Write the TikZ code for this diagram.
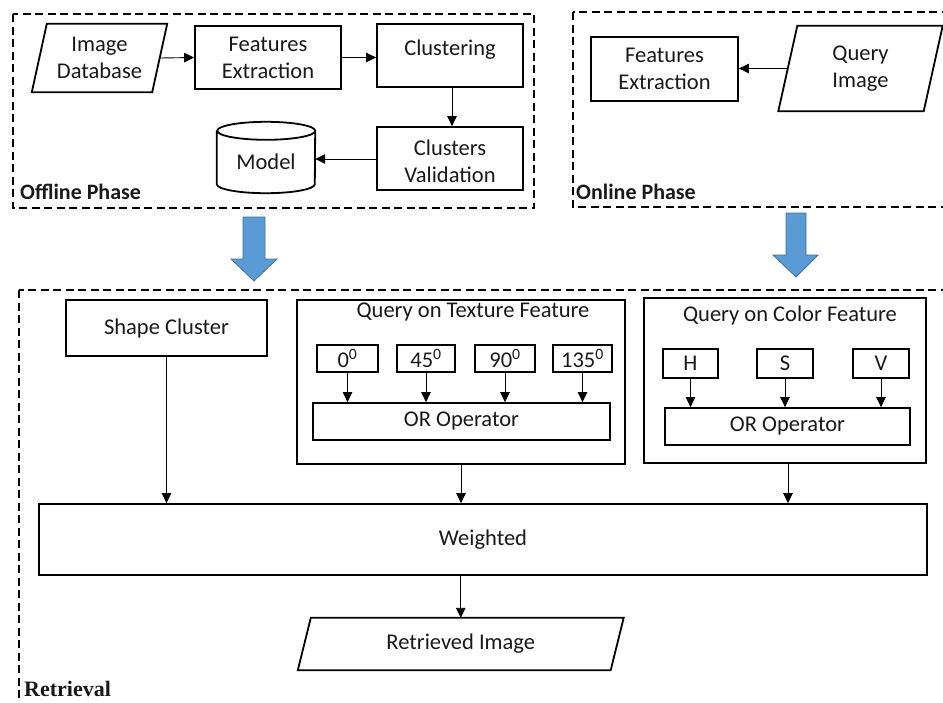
\documentclass[tikz,border=0pt]{standalone}
\usepackage{fontspec}
\setmainfont{Carlito}
\newfontfamily\timesf{Liberation Serif}
\usetikzlibrary{arrows.meta,calc}
\definecolor{arrowblue}{HTML}{5B9BD5}
\definecolor{arrowedge}{HTML}{41719C}
\begin{document}
\begin{tikzpicture}[x=1pt,y=1pt,
  every node/.style={font=\fontsize{22.5}{27}\selectfont, inner sep=0pt, align=center, text=black!90},
  bx/.style={draw=black, line width=1.8pt},
  ghost/.style={draw=none},
  phase/.style={draw=black, line width=2pt, dash pattern=on 8pt off 4.5pt},
  conn/.style={draw=black, line width=0.9pt, -{Triangle[length=10pt,width=9.5pt]}},
  plabel/.style={anchor=west, font=\fontsize{22}{27}\selectfont\bfseries},
  bigarrow/.style={fill=arrowblue, draw=arrowedge, line width=0.8pt}]
\useasboundingbox (0,0) rectangle (943,-702);
\fill[white] (0,0) rectangle (943,-702);

% ---------- phase frames ----------
\begin{scope}
\clip (0,0) rectangle (943,-702);
\draw[phase] (13,-14) rectangle (534,-208);
\draw[phase] (573,-12) rectangle (960,-207);
\draw[phase] (19,-290) rectangle (960,-720);
\end{scope}

% ---------- offline phase ----------
\node[ghost, minimum width=120pt, minimum height=68pt] (imgdb) at (99.5,-58) {Image\\Database};
\draw[bx] ([xshift=7.5pt]imgdb.north west) -- ([xshift=7.5pt]imgdb.north east)
  -- ([xshift=-7.5pt]imgdb.south east) -- ([xshift=-7.5pt]imgdb.south west) -- cycle;
\node[bx, minimum width=146pt, minimum height=63pt] (fe1) at (268,-57.5) {Features\\Extraction};
\node[bx, minimum width=146pt, minimum height=63pt] (clus) at (450,-55.5) {};
\node (clustxt) at ([yshift=6pt]clus.center) {Clustering};
\node[bx, minimum width=146pt, minimum height=63pt] (cv) at (450,-158.5) {};
\node (cvtxt) at ([yshift=-3pt]cv.center) {Clusters\\Validation};
\node[ghost, minimum width=98pt, minimum height=71pt] (model) at (266,-157.5) {};
\draw[bx] ([yshift=-9pt]model.north west) -- ([yshift=9pt]model.south west)
  arc[start angle=180, end angle=360, x radius=49pt, y radius=9pt]
  -- ([yshift=-9pt]model.north east)
  arc[start angle=0, end angle=180, x radius=49pt, y radius=9pt]
  arc[start angle=180, end angle=360, x radius=49pt, y radius=9pt];
\node (modeltxt) at ([yshift=-4.5pt]model.center) {Model};
\node[plabel] (offl) at (20,-192) {Offline Phase};

\draw[conn] (imgdb.east) -- (fe1.west);
\draw[conn] (fe1.east) -- (fe1.east -| clus.west);
\draw[conn] ([xshift=2pt]clus.south) -- ([xshift=2pt]cv.north);
\draw[conn] ([yshift=-0.5pt]cv.west) -- ([yshift=-1.5pt]model.east);

% ---------- online phase ----------
\node[bx, minimum width=147pt, minimum height=64pt] (fe2) at (664.5,-69) {Features\\Extraction};
\node[ghost, minimum width=145pt, minimum height=85pt] (qimg) at (860.5,-68.5) {Query\\Image};
\draw[bx] ([xshift=9.5pt]qimg.north west) -- ([xshift=9.5pt]qimg.north east)
  -- ([xshift=-9.5pt]qimg.south east) -- ([xshift=-9.5pt]qimg.south west) -- cycle;
\node[plabel] (onl) at (576,-192) {Online Phase};
\draw[conn] (qimg.west) -- (qimg.west -| fe2.east);

% ---------- big arrows ----------
\draw[bigarrow] (243,-217) -- (265,-217) -- (265,-259) -- (277,-259) -- (254,-281)
  -- (231,-259) -- (243,-259) -- cycle;
\draw[bigarrow] (786,-213) -- (806,-213) -- (806,-255) -- (818,-255) -- (796,-277)
  -- (773,-255) -- (786,-255) -- cycle;

% ---------- retrieval ----------
\node[bx, minimum width=201pt, minimum height=56pt] (shape) at (166.5,-328) {Shape Cluster};

\node[bx, minimum width=328pt, minimum height=164pt] (tex) at (461,-382) {};
\node (textitle) at (473,-312) {Query on Texture Feature};
\node[bx, minimum width=61pt, minimum height=27pt] (a0) at (347.5,-358.5) {0\textsuperscript{0}};
\node[bx, minimum width=58pt, minimum height=27pt] (a45) at (426,-358.5) {45\textsuperscript{0}};
\node[bx, minimum width=60pt, minimum height=27pt] (a90) at (505,-358.5) {90\textsuperscript{0}};
\node[bx, minimum width=59pt, minimum height=27pt] (a135) at (582.5,-358.5) {135\textsuperscript{0}};
\node[bx, minimum width=297pt, minimum height=37pt] (tor) at (461.5,-421.5) {OR Operator};
\foreach \n in {a0,a45,a90,a135}
  \draw[conn] (\n.south) -- (\n.south |- tor.north);

\node[bx, minimum width=282pt, minimum height=165pt] (col) at (785,-380.5) {};
\node (coltitle) at (790,-315) {Query on Color Feature};
\node[bx, minimum width=55pt, minimum height=29pt] (ch) at (690.5,-363.5) {H};
\node[bx, minimum width=56pt, minimum height=29pt] (cs) at (785,-363.5) {S};
\node[bx, minimum width=56pt, minimum height=29pt] (cvv) at (881,-363.5) {V};
\node[bx, minimum width=245pt, minimum height=37pt] (cor) at (787.5,-426.5) {OR Operator};
\foreach \n in {ch,cs,cvv}
  \draw[conn] (\n.south) -- (\n.south |- cor.north);

\node[bx, minimum width=888pt, minimum height=71pt] (wt) at (483,-539.5) {Weighted};
\draw[conn] (shape.south) -- (shape.south |- wt.north);
\draw[conn] (tex.south) -- (tex.south |- wt.north);
\draw[conn] ([xshift=3pt]col.south) -- ([xshift=3pt]col.south |- wt.north);

\node[ghost, minimum width=312.5pt, minimum height=52pt] (retr) at (460.75,-644) {Retrieved Image};
\draw[bx] ([xshift=6.5pt]retr.north west) -- ([xshift=6.5pt]retr.north east)
  -- ([xshift=-6.5pt]retr.south east) -- ([xshift=-6.5pt]retr.south west) -- cycle;
\draw[conn] (retr.north |- wt.south) -- (retr.north);

\node[anchor=west, font=\fontsize{22}{27}\selectfont\timesf\bfseries] (retl) at (24,-689) {Retrieval};
\end{tikzpicture}
\end{document}
